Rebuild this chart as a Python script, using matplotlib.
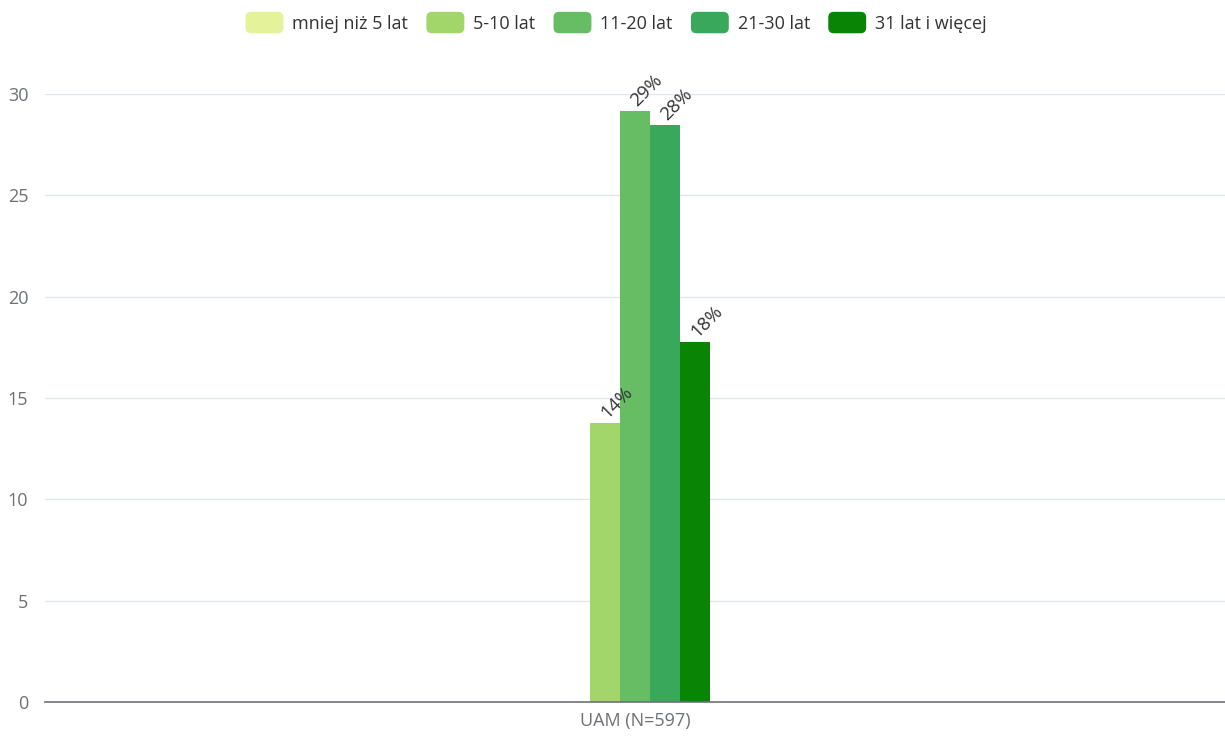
import matplotlib.pyplot as plt
from matplotlib.legend_handler import HandlerPatch
from matplotlib.patches import FancyBboxPatch

plt.rcParams["font.family"] = ["Open Sans", "DejaVu Sans"]

categories = ["UAM (N=597)"]
series_names = ["mniej niż 5 lat", "5-10 lat", "11-20 lat", "21-30 lat", "31 lat i więcej"]
series_values = [0.0, 13.77, 29.16, 28.47, 17.76]
series_labels = ["", "14%", "29%", "28%", "18%"]
colors = ["#e4f39a", "#a2d66a", "#66bd63", "#3aa85a", "#0a8404"]


class RoundHandler(HandlerPatch):
    def create_artists(self, legend, orig_handle, xdescent, ydescent, width, height, fontsize, trans):
        p = FancyBboxPatch((-xdescent, -ydescent), width, height,
                           boxstyle="round,pad=0,rounding_size=4",
                           facecolor=orig_handle.get_facecolor(), edgecolor="none",
                           transform=trans)
        return [p]


fig = plt.figure(figsize=(12.25, 7.36), dpi=100)
ax = fig.add_axes([45 / 1225, 1 - 702 / 736, 1180 / 1225, 608 / 736])

bar_w = 30 / 1180
handles = []
for i, (name, val, lab, col) in enumerate(zip(series_names, series_values, series_labels, colors)):
    x = (i - 2) * bar_w
    b = ax.bar(x, val, width=bar_w, color=col, label=name, zorder=3)
    handles.append(b.patches[0])
    if lab:
        ax.text(x + 0.004, val + 0.05, lab, rotation=45, rotation_mode="anchor",
                ha="left", va="bottom", fontsize=13.5, color="#333333", zorder=4)

ax.set_xlim(-0.5, 0.5)
ax.set_ylim(0, 30)
ax.set_yticks([0, 5, 10, 15, 20, 25, 30])
ax.set_xticks([0])
ax.set_xticklabels(categories)
ax.grid(axis="y", color="#e0e6f1", linewidth=1, zorder=0)
for s in ["top", "right", "left"]:
    ax.spines[s].set_visible(False)
ax.spines["bottom"].set_color("#6e7079")
ax.spines["bottom"].set_linewidth(1.2)
ax.spines["bottom"].set_zorder(5)
ax.tick_params(axis="y", length=0, pad=12, labelsize=13, labelcolor="#6e7079")
ax.tick_params(axis="x", length=0, pad=7, labelsize=13, labelcolor="#6e7079")

fig.legend(handles, series_names, loc="upper center", bbox_to_anchor=(0.503, 1.006),
           ncol=5, frameon=False, fontsize=13, handlelength=2.1, handleheight=1.45,
           handletextpad=0.5, columnspacing=1.0, labelcolor="#333333",
           handler_map={h: RoundHandler() for h in handles})

fig.savefig("out.png", dpi=100)
